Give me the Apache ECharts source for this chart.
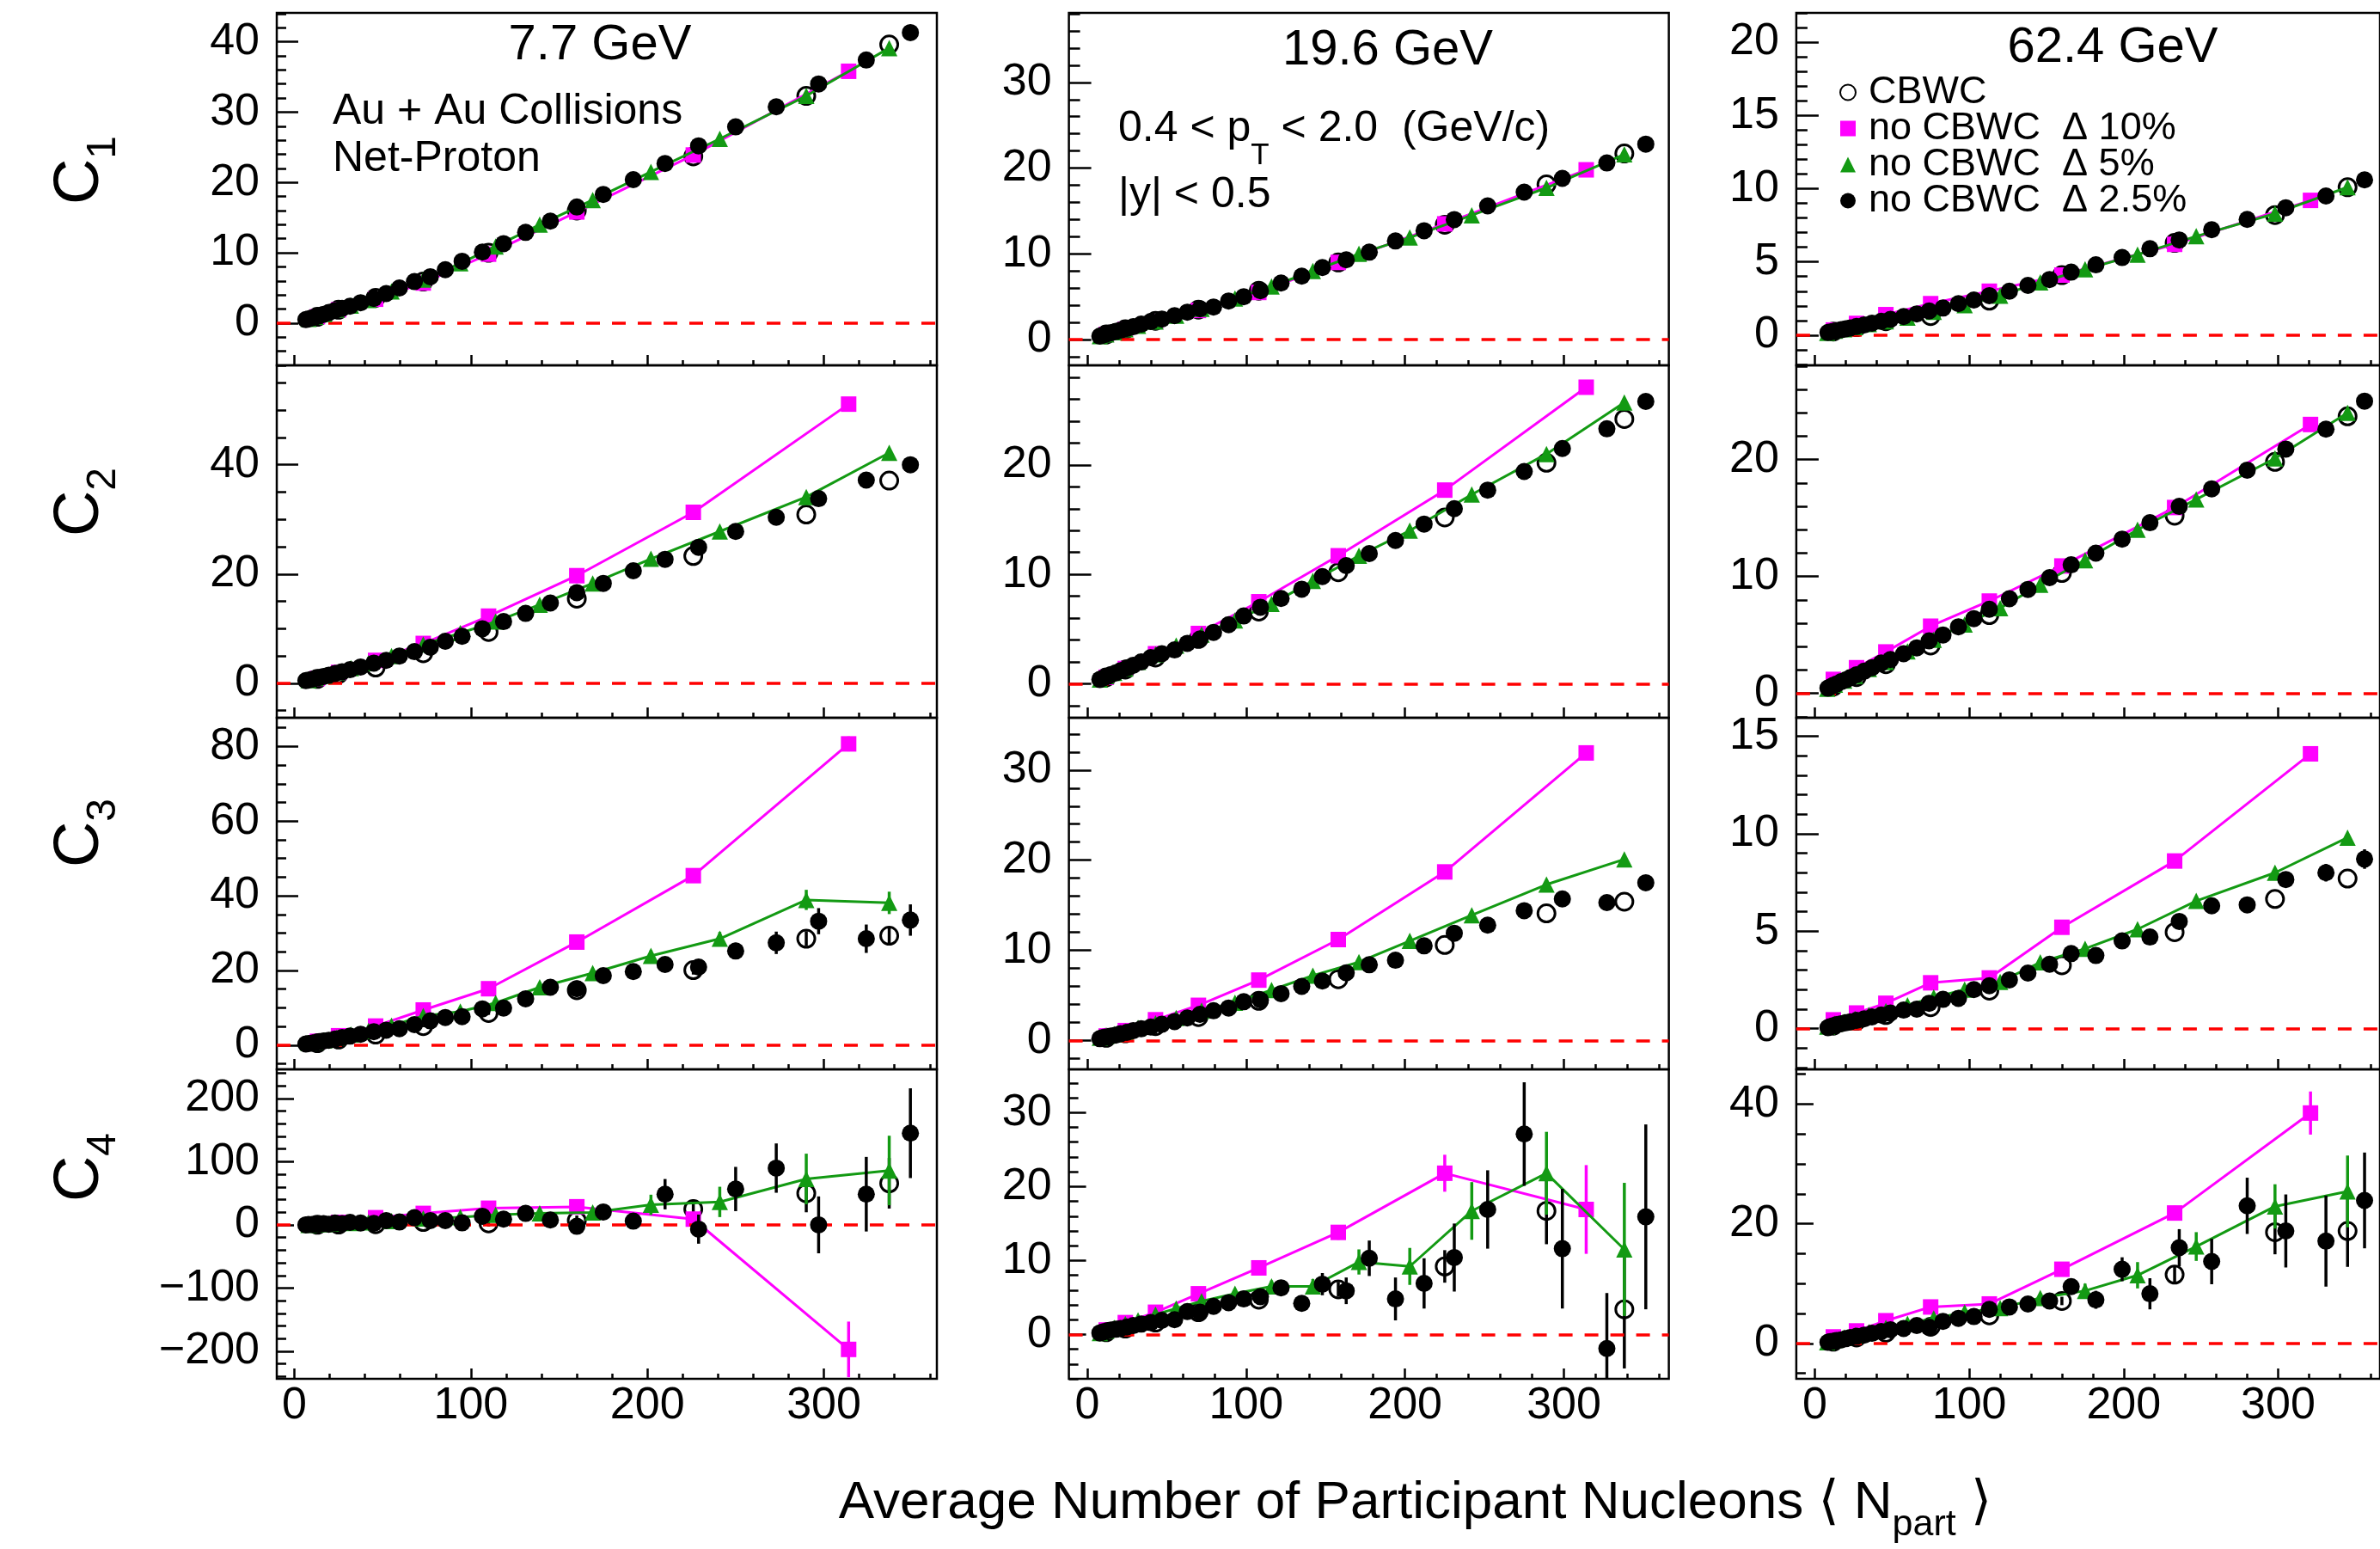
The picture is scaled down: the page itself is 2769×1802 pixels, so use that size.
<!DOCTYPE html>
<html><head><meta charset="utf-8">
<script src="https://cdn.jsdelivr.net/npm/echarts@6/dist/echarts.min.js"></script>
<style>html,body{margin:0;padding:0;background:#fff}#c{width:2769px;height:1802px}</style>
</head><body><div id="c"></div>
<script>
const FONT = "'Liberation Sans', Arial, Helvetica, 'DejaVu Sans', sans-serif";

// ---------- tick labels ----------
const xTickLabels = [0, 100, 200, 300];
const yT_r1c1 = [0, 10, 20, 30, 40], yT_r1c2 = [0, 10, 20, 30], yT_r1c3 = [0, 5, 10, 15, 20];
const yT_r2c1 = [0, 20, 40], yT_r2c2 = [0, 10, 20], yT_r2c3 = [0, 10, 20];
const yT_r3c1 = [0, 20, 40, 60, 80], yT_r3c2 = [0, 10, 20, 30], yT_r3c3 = [0, 5, 10, 15];
const yT_r4c1 = [-200, -100, 0, 100, 200], yT_r4c2 = [0, 10, 20, 30], yT_r4c3 = [0, 20, 40];

// ---------- <Npart> positions ----------
const xCB_77 = [13, 25, 46, 73, 110, 160, 226, 290, 337];
const x10_77 = [13, 25, 46, 73, 110, 160, 226, 314];
const x5_77 = [8, 12, 17, 24, 32, 42, 55, 73, 94, 114, 139, 169, 202, 241, 290, 337];
const x25_77 = [6.5, 8, 10, 12, 14, 16.5, 19.5, 23, 27, 31.5, 37.5, 45, 52, 59.5, 68, 77, 85.5, 95, 106.5, 118.5, 131, 145, 160, 175, 192, 210, 229, 250, 273, 297, 324, 349];

const xCB_196 = [12, 24, 43, 70, 108, 158, 225, 289, 338];
const x10_196 = [12, 24, 43, 70, 108, 158, 225, 314];
const x5_196 = [8, 12, 17, 24, 32, 43, 56, 72, 93, 116, 142, 171, 203, 242, 289, 338];
const x25_196 = [8, 9.5, 11, 13, 15, 18, 21, 25, 29, 34, 40, 47, 55, 63, 71, 79.5, 89, 98.5, 109, 122, 135, 148, 163, 177.5, 194, 212, 231, 252, 275, 299, 327, 351.5];

const xCB_624 = [12, 27, 46, 75, 113, 160, 233, 298, 345];
const x10_624 = [12, 27, 46, 75, 113, 160, 233, 321];
const x5_624 = [8, 13, 19, 26, 35, 46, 60, 77, 97, 120, 146, 175, 209, 247, 298, 345];
const x25_624 = [8.5, 10, 12, 14, 17, 20, 23, 27, 32, 37, 43, 49, 57.5, 66, 74, 83, 93, 103, 113, 126, 138, 152, 166, 182, 199, 217, 236, 257, 280, 305, 331, 356];

// ---------- 7.7 GeV ----------
const CB_c1_77 = [0.9, 1.9, 3.6, 5.9, 10.0, 16.0, 23.7, 32.3, 39.6];
const T10_c1_77 = [0.9, 1.9, 3.4, 5.7, 9.8, 15.8, 23.9, 35.8];
const F5_c1_77 = [0.6, 0.9, 1.3, 1.9, 2.5, 3.3, 4.5, 6.2, 8.5, 10.9, 14.0, 17.5, 21.5, 26.2, 32.3, 39.1];
const B25_c1_77 = [0.5, 0.6, 0.75, 0.9, 1.05, 1.25, 1.5, 1.8, 2.1, 2.4, 2.9, 3.5, 4.2, 5.0, 5.9, 6.6, 7.6, 8.8, 10.1, 11.3, 12.9, 14.5, 16.5, 18.3, 20.4, 22.7, 25.2, 27.9, 30.75, 34.0, 37.4, 41.3];

const CB_c2_77 = [0.8, 1.7, 2.9, 5.5, 9.4, 15.5, 23.3, 30.9, 37.1];
const T10_c2_77 = [0.9, 2.0, 4.2, 7.3, 12.3, 19.7, 31.3, 51.1];
const F5_c2_77 = [0.6, 1.0, 1.4, 2.0, 2.8, 3.7, 5.0, 7.1, 9.2, 11.3, 14.4, 18.3, 22.8, 27.8, 34.1, 42.2];
const B25_c2_77 = [0.5, 0.6, 0.75, 0.9, 1.05, 1.25, 1.5, 1.8, 2.1, 2.5, 3.0, 3.7, 4.2, 5.0, 5.8, 6.6, 7.7, 8.6, 10.0, 11.3, 12.8, 14.7, 16.6, 18.3, 20.6, 22.7, 24.9, 27.8, 30.4, 33.8, 37.2, 40.0];

const CB_c3_77 = [0.5, 1.5, 2.8, 5.1, 8.6, 14.7, 20.1, 28.5, 29.3];
const T10_c3_77 = [1.0, 2.5, 5.1, 9.4, 15.1, 27.6, 45.4, 80.7];
const F5_c3_77 = [0.5, 0.9, 1.3, 2.0, 2.8, 3.8, 5.2, 7.8, 9.0, 11.3, 15.5, 19.3, 23.9, 28.5, 38.9, 38.1];
const B25_c3_77 = [0.3, 0.4, 0.5, 0.7, 0.9, 1.1, 1.3, 1.6, 2.0, 2.4, 2.9, 3.6, 4.0, 4.4, 5.5, 6.5, 7.4, 7.6, 9.7, 9.9, 12.4, 15.5, 15.1, 18.6, 19.7, 21.6, 20.9, 25.2, 27.4, 33.2, 28.5, 33.5];
const eCB_c3_77 = [0.1, 0.1, 0.2, 0.3, 0.5, 0.8, 1.2, 2.0, 2.2];
const eT10_c3_77 = [0.1, 0.1, 0.2, 0.3, 0.5, 0.7, 1.0, 2.0];
const eF5_c3_77 = [0.1, 0.1, 0.1, 0.2, 0.2, 0.3, 0.4, 0.5, 0.6, 0.8, 1.0, 1.2, 1.5, 1.8, 2.7, 3.0];
const eB25_c3_77 = [0.1, 0.1, 0.1, 0.1, 0.1, 0.1, 0.2, 0.2, 0.2, 0.2, 0.3, 0.3, 0.3, 0.4, 0.4, 0.5, 0.5, 0.6, 0.6, 0.7, 0.8, 0.8, 0.9, 1.0, 1.1, 1.3, 1.5, 2.2, 3.0, 3.5, 3.8, 4.2];

const CB_c4_77 = [0.2, 0.5, 1, 4.5, 2.3, 6.8, 24.9, 49.9, 65.8];
const T10_c4_77 = [1, 4, 11.3, 18.1, 26.3, 28.6, 9.1, -197];
const F5_c4_77 = [0, 0.5, 1, 2, 3, 4, 6, 10, 12, 15.9, 18.1, 19.5, 31.7, 36.3, 72.6, 86];
const B25_c4_77 = [0, 0.5, 0.5, 1, 1, 2, 1, 3, 2, 4, 3, 2.3, 6.8, 4.5, 11.3, 6.8, 6.8, 3.2, 13.6, 9.1, 18.1, 7.7, -2.3, 20.4, 5.9, 48.5, -6.8, 56.7, 89.8, 0, 48.5, 145];
const eCB_c4_77 = [0.5, 1, 2, 3, 5, 8, 15, 30, 40];
const eT10_c4_77 = [1, 2, 3, 4, 5, 7, 10, 44];
const eF5_c4_77 = [0.5, 0.5, 1, 1, 1.5, 2, 2.5, 3, 4, 5, 6, 8, 16, 24, 40, 55];
const eB25_c4_77 = [0.5, 0.5, 0.5, 0.5, 0.5, 0.5, 1, 1, 1, 1, 1, 1, 1.5, 2, 2, 2, 2.5, 3, 3, 4, 5, 7, 8, 10, 12, 24, 23, 35, 39, 45, 59, 71];

// ---------- 19.6 GeV ----------
const CB_c1_196 = [0.6, 1.2, 2.2, 3.5, 5.7, 9.0, 13.4, 18.1, 21.7];
const T10_c1_196 = [0.6, 1.2, 2.1, 3.4, 5.5, 9.0, 13.5, 19.8];
const F5_c1_196 = [0.4, 0.6, 0.85, 1.2, 1.6, 2.1, 2.8, 3.6, 4.8, 6.2, 8.0, 10.0, 11.9, 14.5, 17.7, 21.6];
const B25_c1_196 = [0.4, 0.5, 0.6, 0.7, 0.8, 0.95, 1.1, 1.3, 1.5, 1.8, 2.1, 2.4, 2.8, 3.2, 3.6, 3.8, 4.5, 5.0, 5.7, 6.6, 7.4, 8.4, 9.3, 10.2, 11.5, 12.7, 14.0, 15.6, 17.2, 18.8, 20.6, 22.8];

const CB_c2_196 = [0.6, 1.3, 2.4, 4.1, 6.6, 10.2, 15.2, 20.2, 24.2];
const T10_c2_196 = [0.6, 1.4, 2.75, 4.6, 7.5, 11.7, 17.7, 27.1];
const F5_c2_196 = [0.4, 0.7, 1.0, 1.4, 2.0, 2.7, 3.5, 4.5, 5.8, 7.3, 9.4, 11.7, 14.0, 17.3, 21.0, 25.7];
const B25_c2_196 = [0.4, 0.5, 0.6, 0.7, 0.85, 1.0, 1.2, 1.45, 1.7, 2.0, 2.4, 2.75, 3.1, 3.7, 4.1, 4.7, 5.4, 6.2, 7.0, 7.8, 8.65, 9.8, 10.8, 11.9, 13.1, 14.6, 16.0, 17.7, 19.4, 21.5, 23.3, 25.8];

const CB_c3_196 = [0.3, 0.8, 1.6, 2.6, 4.4, 6.8, 10.6, 14.1, 15.4];
const T10_c3_196 = [0.5, 1.1, 2.3, 3.9, 6.7, 11.2, 18.7, 31.9];
const F5_c3_196 = [0.3, 0.5, 0.7, 1.0, 1.4, 1.9, 2.5, 3.3, 4.2, 5.6, 7.2, 8.7, 11.05, 13.9, 17.3, 20.1];
const B25_c3_196 = [0.2, 0.3, 0.35, 0.4, 0.5, 0.6, 0.75, 0.9, 1.1, 1.3, 1.5, 1.8, 2.1, 2.5, 2.9, 3.3, 3.6, 4.3, 4.5, 5.2, 6.0, 6.6, 7.5, 8.4, 8.9, 10.5, 11.9, 12.8, 14.4, 15.7, 15.3, 17.5];
const eB25_c3_196 = [0.02, 0.02, 0.02, 0.02, 0.03, 0.03, 0.03, 0.04, 0.04, 0.05, 0.05, 0.06, 0.07, 0.08, 0.09, 0.1, 0.11, 0.12, 0.13, 0.15, 0.17, 0.19, 0.21, 0.24, 0.27, 0.3, 0.35, 0.4, 0.45, 0.5, 0.6, 0.8];

const CB_c4_196 = [0.3, 0.8, 1.6, 3.0, 4.7, 6.1, 9.2, 16.7, 3.4];
const T10_c4_196 = [0.6, 1.6, 3.0, 5.5, 9.0, 13.8, 21.8, 16.9];
const F5_c4_196 = [0.2, 0.5, 0.9, 1.4, 1.9, 2.7, 3.5, 4.5, 5.5, 6.5, 6.5, 9.8, 9.2, 16.7, 21.8, 11.5];
const B25_c4_196 = [0.2, 0.3, 0.4, 0.5, 0.6, 0.7, 0.8, 1.0, 1.2, 1.4, 1.6, 1.9, 2.0, 3.1, 3.0, 3.8, 4.3, 4.8, 5.1, 6.3, 4.2, 6.8, 5.9, 10.3, 4.8, 6.9, 10.4, 16.9, 27.1, 11.6, -1.9, 15.9];
const eCB_c4_196 = [0.2, 0.3, 0.4, 0.5, 0.7, 1, 2.2, 4.5, 8];
const eT10_c4_196 = [0.2, 0.3, 0.4, 0.5, 0.6, 1.0, 2.5, 6.0];
const eF5_c4_196 = [0.2, 0.2, 0.3, 0.3, 0.4, 0.4, 0.5, 0.6, 0.7, 0.8, 1.0, 1.7, 2.5, 3.9, 5.6, 9];
const eB25_c4_196 = [0.1, 0.1, 0.1, 0.1, 0.1, 0.1, 0.2, 0.2, 0.2, 0.2, 0.3, 0.3, 0.3, 0.4, 0.4, 0.5, 0.5, 0.6, 0.6, 0.8, 1.0, 1.5, 1.8, 2.4, 2.9, 3.4, 4.6, 5.3, 7, 8.1, 7.5, 12.5];

// ---------- 62.4 GeV ----------
const CB_c1_624 = [0.25, 0.55, 0.95, 1.3, 2.35, 4.1, 6.3, 8.2, 10.1];
const T10_c1_624 = [0.35, 0.8, 1.4, 2.15, 3.0, 4.1, 6.2, 9.2];
const F5_c1_624 = [0.15, 0.3, 0.4, 0.55, 0.75, 0.95, 1.2, 1.6, 2.05, 2.7, 3.6, 4.5, 5.5, 6.75, 8.3, 10.1];
const B25_c1_624 = [0.18, 0.22, 0.26, 0.3, 0.37, 0.44, 0.5, 0.6, 0.7, 0.82, 0.95, 1.08, 1.27, 1.45, 1.65, 1.85, 2.15, 2.4, 2.7, 3.0, 3.4, 3.8, 4.3, 4.8, 5.3, 5.9, 6.5, 7.2, 7.9, 8.7, 9.5, 10.6];

const CB_c2_624 = [0.6, 1.4, 2.5, 4.1, 6.7, 10.3, 15.2, 19.8, 23.7];
const T10_c2_624 = [1.2, 2.2, 3.55, 5.75, 7.9, 10.9, 15.9, 23.0];
const F5_c2_624 = [0.4, 0.75, 1.1, 1.5, 2.1, 2.7, 3.6, 4.6, 5.9, 7.3, 9.3, 11.4, 14.0, 16.6, 20.1, 24.0];
const B25_c2_624 = [0.45, 0.55, 0.7, 0.8, 1.0, 1.15, 1.35, 1.6, 1.9, 2.2, 2.6, 2.9, 3.4, 3.9, 4.5, 5.0, 5.7, 6.4, 7.2, 8.1, 8.9, 9.9, 11.0, 12.0, 13.2, 14.6, 16.0, 17.5, 19.1, 20.9, 22.6, 25.0];

const CB_c3_624 = [0.15, 0.4, 0.7, 1.1, 1.95, 3.25, 4.95, 6.65, 7.7];
const T10_c3_624 = [0.45, 0.8, 1.3, 2.35, 2.6, 5.2, 8.6, 14.1];
const F5_c3_624 = [0.1, 0.25, 0.35, 0.5, 0.7, 0.9, 1.2, 1.6, 2.0, 2.4, 3.4, 4.1, 5.1, 6.55, 8.0, 9.8];
const B25_c3_624 = [0.05, 0.1, 0.15, 0.2, 0.25, 0.3, 0.35, 0.42, 0.5, 0.6, 0.7, 0.8, 0.95, 1.0, 1.3, 1.5, 1.55, 2.0, 2.2, 2.5, 2.85, 3.3, 3.85, 3.75, 4.5, 4.7, 5.5, 6.3, 6.35, 7.65, 8.0, 8.7];
const eB25_c3_624 = [0.01, 0.01, 0.01, 0.01, 0.01, 0.02, 0.02, 0.02, 0.02, 0.03, 0.03, 0.03, 0.04, 0.04, 0.05, 0.05, 0.06, 0.06, 0.07, 0.08, 0.09, 0.1, 0.11, 0.12, 0.14, 0.16, 0.18, 0.2, 0.25, 0.35, 0.45, 0.5];

const CB_c4_624 = [0.3, 1.0, 1.8, 2.8, 4.7, 7.1, 11.5, 18.6, 18.8];
const T10_c4_624 = [1.1, 2.1, 3.8, 6.1, 6.6, 12.4, 21.8, 38.5];
const F5_c4_624 = [0.2, 0.6, 1.0, 1.4, 1.9, 2.6, 3.3, 4.2, 5.2, 5.9, 7.6, 8.8, 11.4, 16.2, 22.9, 25.4];
const B25_c4_624 = [0.2, 0.3, 0.4, 0.5, 0.6, 0.8, 1.0, 1.2, 1.4, 1.7, 2.0, 2.3, 2.5, 3.0, 2.7, 3.7, 4.2, 4.5, 5.7, 6.1, 6.6, 7.1, 9.5, 7.3, 12.4, 8.3, 16.0, 13.7, 23.0, 18.8, 17.1, 23.9];
const eCB_c4_624 = [0.1, 0.1, 0.2, 0.3, 0.4, 0.7, 1.5, 3.7, 6];
const eT10_c4_624 = [0.1, 0.2, 0.3, 0.4, 0.5, 0.6, 1.2, 3.6];
const eF5_c4_624 = [0.1, 0.1, 0.1, 0.1, 0.2, 0.2, 0.3, 0.3, 0.4, 0.5, 0.8, 1.2, 2.2, 2.4, 3.7, 6];
const eB25_c4_624 = [0.1, 0.1, 0.1, 0.1, 0.1, 0.1, 0.1, 0.2, 0.2, 0.2, 0.2, 0.3, 0.3, 0.3, 0.4, 0.4, 0.5, 0.5, 0.6, 0.7, 0.8, 1.0, 1.2, 1.5, 2.0, 2.6, 3.1, 3.8, 4.7, 6.1, 7.6, 8];

// ---------- layout ----------
const cols = [
  {left: 322, width: 768, xMin: -10, xMax: 364, yMaj: 25, yMinL: 11,
   xs: {cb: xCB_77, t10: x10_77, f5: x5_77, b25: x25_77}},
  {left: 1243.6, width: 698, xMin: -11.5, xMax: 366, yMaj: 26, yMinL: 13,
   xs: {cb: xCB_196, t10: x10_196, f5: x5_196, b25: x25_196}},
  {left: 2089.9, width: 697, xMin: -12, xMax: 366, yMaj: 26, yMinL: 13,
   xs: {cb: xCB_624, t10: x10_624, f5: x5_624, b25: x25_624}}
];
const rows = [{top: 15, height: 410}, {top: 425, height: 410}, {top: 835, height: 409}, {top: 1244, height: 360}];

const panels = [
  {r: 0, c: 0, yMin: -6, yMax: 44.1, ticks: yT_r1c1, step: 2, cb: CB_c1_77, t10: T10_c1_77, f5: F5_c1_77, b25: B25_c1_77},
  {r: 0, c: 1, yMin: -3, yMax: 38.1, ticks: yT_r1c2, step: 2, cb: CB_c1_196, t10: T10_c1_196, f5: F5_c1_196, b25: B25_c1_196},
  {r: 0, c: 2, yMin: -2.06, yMax: 22.0, ticks: yT_r1c3, step: 1, cb: CB_c1_624, t10: T10_c1_624, f5: F5_c1_624, b25: B25_c1_624},
  {r: 1, c: 0, yMin: -6.3, yMax: 58.2, ticks: yT_r2c1, step: 5, cb: CB_c2_77, t10: T10_c2_77, f5: F5_c2_77, b25: B25_c2_77},
  {r: 1, c: 1, yMin: -3.1, yMax: 29.1, ticks: yT_r2c2, step: 2, cb: CB_c2_196, t10: T10_c2_196, f5: F5_c2_196, b25: B25_c2_196},
  {r: 1, c: 2, yMin: -2.08, yMax: 28.06, ticks: yT_r2c3, step: 2, cb: CB_c2_624, t10: T10_c2_624, f5: F5_c2_624, b25: B25_c2_624},
  {r: 2, c: 0, yMin: -6.5, yMax: 87.7, ticks: yT_r3c1, step: 5, cb: CB_c3_77, t10: T10_c3_77, f5: F5_c3_77, b25: B25_c3_77,
   ecb: eCB_c3_77, et10: eT10_c3_77, ef5: eF5_c3_77, eb25: eB25_c3_77},
  {r: 2, c: 1, yMin: -3.2, yMax: 35.8, ticks: yT_r3c2, step: 2, cb: CB_c3_196, t10: T10_c3_196, f5: F5_c3_196, b25: B25_c3_196,
   eb25: eB25_c3_196},
  {r: 2, c: 2, yMin: -2.09, yMax: 15.95, ticks: yT_r3c3, step: 1, cb: CB_c3_624, t10: T10_c3_624, f5: F5_c3_624, b25: B25_c3_624,
   eb25: eB25_c3_624},
  {r: 3, c: 0, yMin: -243.5, yMax: 246, ticks: yT_r4c1, step: 20, cb: CB_c4_77, t10: T10_c4_77, f5: F5_c4_77, b25: B25_c4_77,
   ecb: eCB_c4_77, et10: eT10_c4_77, ef5: eF5_c4_77, eb25: eB25_c4_77},
  {r: 3, c: 1, yMin: -6.0, yMax: 35.85, ticks: yT_r4c2, step: 2, cb: CB_c4_196, t10: T10_c4_196, f5: F5_c4_196, b25: B25_c4_196,
   ecb: eCB_c4_196, et10: eT10_c4_196, ef5: eF5_c4_196, eb25: eB25_c4_196},
  {r: 3, c: 2, yMin: -5.9, yMax: 45.8, ticks: yT_r4c3, step: 5, cb: CB_c4_624, t10: T10_c4_624, f5: F5_c4_624, b25: B25_c4_624,
   ecb: eCB_c4_624, et10: eT10_c4_624, ef5: eF5_c4_624, eb25: eB25_c4_624}
];

const NAME_CB = 'CBWC', NAME_10 = 'no CBWC  \u0394 10%', NAME_5 = 'no CBWC  \u0394 5%', NAME_25 = 'no CBWC  \u0394 2.5%';
const MAGENTA = '#ff00ff', GREEN = '#139a13', BLACK = '#000000', RED = '#ff0000';

function zip(xs, ys) { return xs.map((x, k) => [x, ys[k]]); }
function minorTicks(min, max, step, majors) {
  const out = [];
  const k0 = Math.ceil(min / step), k1 = Math.floor(max / step);
  for (let k = k0; k <= k1; k++) {
    const v = Math.round(k * step * 1000) / 1000;
    if (majors.indexOf(v) < 0) out.push(v);
  }
  return out;
}
function errSeries(xs, ys, es, color, i, z) {
  return {
    type: 'custom', name: 'err', xAxisIndex: 2 * i, yAxisIndex: 2 * i, z: z, silent: true, clip: true,
    data: xs.map((x, k) => [x, ys[k], es[k]]), encode: {x: 0, y: 1},
    renderItem: function (params, api) {
      const x = api.value(0), y = api.value(1), e = api.value(2);
      const cs = params.coordSys;
      const a = api.coord([x, y + e]), b = api.coord([x, y - e]);
      const clampY = v => Math.max(cs.y, Math.min(cs.y + cs.height, v));
      return {type: 'line', shape: {x1: a[0], y1: clampY(a[1]), x2: a[0], y2: clampY(b[1])},
              style: {stroke: color, lineWidth: 3.5}};
    }
  };
}
const fmtY = v => (v < 0 ? '\u2212' + Math.abs(v) : String(v));
const noLine = () => ({show: false, onZero: false});

const grid = [], xAxis = [], yAxis = [], series = [];
panels.forEach((p, i) => {
  const col = cols[p.c], row = rows[p.r], xs = col.xs;
  grid.push({left: col.left, top: row.top, width: col.width, height: row.height, show: true,
             borderColor: '#000', borderWidth: 2.5, backgroundColor: 'transparent', containLabel: false});
  const xMinor = minorTicks(0, col.xMax, 20, xTickLabels);
  const yMinor = minorTicks(p.yMin, p.yMax, p.step, p.ticks);
  const isBottom = p.r === 3;
  const yMajLen = isBottom ? 20 : col.yMaj, yMinLen = isBottom ? 11 : col.yMinL;
  xAxis.push({type: 'value', gridIndex: i, min: col.xMin, max: col.xMax, position: 'bottom',
    axisLine: noLine(), splitLine: {show: false},
    axisTick: {show: true, inside: true, length: 12, lineStyle: {color: '#000', width: 2.5}, customValues: xTickLabels},
    axisLabel: {show: isBottom, customValues: xTickLabels, fontSize: 52, fontFamily: FONT, color: '#000', margin: 6}});
  xAxis.push({type: 'value', gridIndex: i, min: col.xMin, max: col.xMax, position: 'bottom',
    axisLine: noLine(), splitLine: {show: false},
    axisTick: {show: true, inside: true, length: 6, lineStyle: {color: '#000', width: 2.5}, customValues: xMinor},
    axisLabel: {show: false, customValues: xMinor}});
  yAxis.push({type: 'value', gridIndex: i, min: p.yMin, max: p.yMax, position: 'left',
    axisLine: noLine(), splitLine: {show: false},
    axisTick: {show: true, inside: true, length: yMajLen, lineStyle: {color: '#000', width: 2.5}, customValues: p.ticks},
    axisLabel: {show: true, customValues: p.ticks, fontSize: 52, fontFamily: FONT, color: '#000', margin: 20, formatter: fmtY}});
  yAxis.push({type: 'value', gridIndex: i, min: p.yMin, max: p.yMax, position: 'left',
    axisLine: noLine(), splitLine: {show: false},
    axisTick: {show: true, inside: true, length: yMinLen, lineStyle: {color: '#000', width: 2.5}, customValues: yMinor},
    axisLabel: {show: false, customValues: yMinor}});

  const ax = {xAxisIndex: 2 * i, yAxisIndex: 2 * i};
  if (p.ecb) series.push(errSeries(xs.cb, p.cb, p.ecb, BLACK, i, 3));
  series.push(Object.assign({type: 'scatter', name: NAME_CB, data: zip(xs.cb, p.cb), symbol: 'circle', symbolSize: 20,
    itemStyle: {color: 'rgba(0,0,0,0)', borderColor: '#000', borderWidth: 3, opacity: 1}, z: 3, silent: true,
    markLine: {silent: true, symbol: ['none', 'none'], label: {show: false},
      lineStyle: {color: RED, type: [16, 14], width: 3.5}, data: [{yAxis: 0}]}}, ax));
  if (p.et10) series.push(errSeries(xs.t10, p.t10, p.et10, MAGENTA, i, 4));
  series.push(Object.assign({type: 'line', name: NAME_10, data: zip(xs.t10, p.t10), symbol: 'rect', symbolSize: 18,
    lineStyle: {color: MAGENTA, width: 3}, itemStyle: {color: MAGENTA, opacity: 1}, z: 4, silent: true}, ax));
  if (p.ef5) series.push(errSeries(xs.f5, p.f5, p.ef5, GREEN, i, 5));
  series.push(Object.assign({type: 'line', name: NAME_5, data: zip(xs.f5, p.f5), symbol: 'triangle', symbolSize: 19,
    lineStyle: {color: GREEN, width: 3}, itemStyle: {color: GREEN, opacity: 1}, z: 5, silent: true}, ax));
  if (p.eb25) series.push(errSeries(xs.b25, p.b25, p.eb25, BLACK, i, 6));
  series.push(Object.assign({type: 'scatter', name: NAME_25, data: zip(xs.b25, p.b25), symbol: 'circle', symbolSize: 20,
    itemStyle: {color: BLACK, opacity: 1}, z: 6, silent: true}, ax));
});

function txt(x, y, text, size, align) {
  return {type: 'text', x: x, y: y, silent: true,
    style: {text: text, font: size + 'px ' + FONT, fill: '#000', textAlign: align || 'left', textVerticalAlign: 'top'}};
}
const graphic = [
  txt(698, 53 - 29, '7.7 GeV', 58, 'center'),
  txt(1614.5, 59 - 29, '19.6 GeV', 58, 'center'),
  txt(2458, 56 - 29, '62.4 GeV', 58, 'center'),
  txt(387, 105.7, 'Au + Au Collisions', 50),
  txt(387, 160.7, 'Net-Proton', 50),
  {type: 'text', x: 1301, y: 102, silent: true,
   style: {text: '{n|0.4 < p}{s|T}{n| < 2.0  (GeV/c)}', textAlign: 'left', textVerticalAlign: 'top',
     rich: {n: {fontSize: 50, fontFamily: FONT, fill: '#000', lineHeight: 97},
            s: {fontSize: 35, fontFamily: FONT, fill: '#000', lineHeight: 35, verticalAlign: 'bottom'}}}},
  txt(1301, 202.7, '|y| < 0.5', 50),
  {type: 'text', x: 1646.5, y: 1701.5, silent: true,
   style: {text: '{n|Average Number of Participant Nucleons \u27E8 N}{s|part}{n| \u27E9}', textAlign: 'center', textVerticalAlign: 'top',
     rich: {n: {fontSize: 62, fontFamily: FONT, fill: '#000', lineHeight: 94},
            s: {fontSize: 43, fontFamily: FONT, fill: '#000', lineHeight: 43, verticalAlign: 'bottom'}}}}
];
const cLabelY = [198, 584, 969, 1358];
['1', '2', '3', '4'].forEach((n, k) => {
  graphic.push({type: 'text', x: 94, y: cLabelY[k], rotation: Math.PI / 2, silent: true,
    style: {text: '{c|C}{s|' + n + '}', textAlign: 'center', textVerticalAlign: 'middle',
      rich: {c: {fontSize: 74, fontFamily: FONT, fill: '#000', lineHeight: 102},
             s: {fontSize: 48, fontFamily: FONT, fill: '#000', lineHeight: 48, verticalAlign: 'bottom'}}}});
});

const chart = echarts.init(document.getElementById('c'), null, {renderer: 'canvas', width: 2769, height: 1802});
chart.setOption({
  animation: false,
  backgroundColor: '#ffffff',
  grid: grid, xAxis: xAxis, yAxis: yAxis, series: series, graphic: graphic,
  legend: {show: true, orient: 'vertical', left: 2135, top: 80, itemWidth: 18, itemHeight: 18, itemGap: -3,
    selectedMode: false,
    textStyle: {fontSize: 45, fontFamily: FONT, color: '#000', lineHeight: 37, padding: [0, 0, 0, 10]},
    data: [{name: NAME_CB, icon: 'circle'}, {name: NAME_10, icon: 'rect'},
           {name: NAME_5, icon: 'triangle'}, {name: NAME_25, icon: 'circle'}]}
});
</script></body></html>
